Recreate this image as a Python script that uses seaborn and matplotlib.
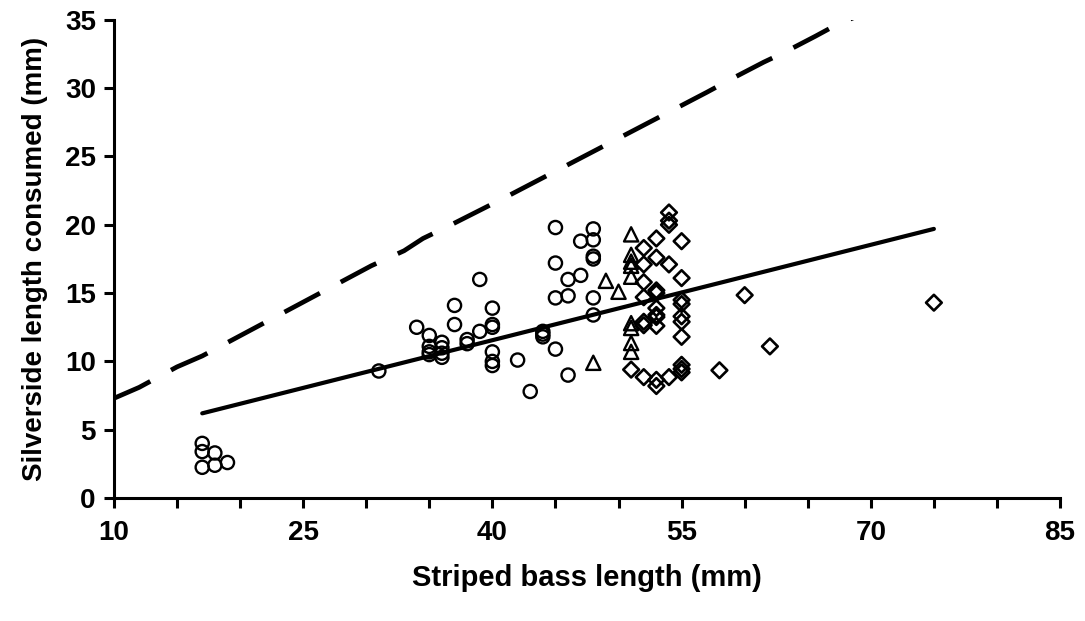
import matplotlib
matplotlib.use("Agg")
import matplotlib.pyplot as plt
import seaborn as sns
import pandas as pd

# ---- data ----
circle_x = [17, 17, 17, 18, 18, 19, 31, 34, 35, 35, 35, 35, 36, 36, 36, 36, 37, 37, 38, 38,
            39, 39, 40, 40, 40, 40, 40, 40, 42, 43, 44, 44, 44, 45, 45, 45, 45, 46, 46, 46,
            47, 47, 48, 48, 48, 48, 48, 48]
circle_y = [4.0, 3.4, 2.25, 3.3, 2.4, 2.6, 9.3, 12.5, 11.9, 11.1, 10.7, 10.5, 11.4, 11.0, 10.6, 10.3,
            14.1, 12.7, 11.6, 11.3, 16.0, 12.2, 13.9, 12.7, 12.5, 10.7, 10.0, 9.7, 10.1, 7.8,
            12.2, 12.0, 11.8, 19.8, 17.2, 14.65, 10.9, 16.0, 14.8, 9.0, 18.8, 16.3,
            19.7, 18.9, 17.7, 17.5, 14.65, 13.4]

triangle_x = [48, 49, 50, 51, 51, 51, 51, 51, 51, 51, 51, 51]
triangle_y = [9.9, 15.9, 15.1, 19.3, 17.8, 17.3, 17.0, 16.2, 12.8, 12.45, 11.35, 10.7]

diamond_x = [51, 52, 52, 52, 52, 52, 52, 52, 53, 53, 53, 53, 53, 53, 53, 53, 53, 53,
             54, 54, 54, 54, 54, 55, 55, 55, 55, 55, 55, 55, 55, 55, 55, 58, 60, 62, 75]
diamond_y = [9.4, 18.3, 17.1, 15.8, 14.7, 12.9, 12.65, 8.85, 19.0, 17.6, 15.2, 15.0, 13.9, 13.4,
             13.25, 12.6, 8.65, 8.2, 20.9, 20.3, 20.0, 17.1, 8.85, 18.8, 16.1, 14.5, 14.2, 13.3,
             12.9, 11.8, 9.75, 9.45, 9.2, 9.35, 14.85, 11.1, 14.3]

fit_x = [17, 75]
fit_y = [6.2, 19.7]

max_x = [10, 12, 15, 17, 30.4, 33, 34.5, 36.3, 40.8, 43.5, 57, 59, 61.5, 63.1, 65.6, 67.2, 69.5]
max_y = [7.3, 8.1, 9.6, 10.4, 17.0, 18.1, 19.0, 19.8, 21.9, 23.2, 29.7, 30.7, 31.9, 32.6, 33.8, 34.6, 35.5]

x_ticks = list(range(10, 86, 5))
x_labels = [str(t) if (t - 10) % 15 == 0 else "" for t in x_ticks]
y_ticks = list(range(0, 36, 5))

# ---- plot ----
sns.set_theme(style="white")
plt.rcParams["font.family"] = ["Liberation Sans", "DejaVu Sans"]
plt.rcParams["font.weight"] = "bold"
plt.rcParams["text.color"] = "black"
plt.rcParams["axes.labelcolor"] = "black"

fig = plt.figure(figsize=(10.85, 6.21), dpi=100)
ax = fig.add_axes([0.105, 0.198, 0.872, 0.770])

df_c = pd.DataFrame({"x": circle_x, "y": circle_y})
df_t = pd.DataFrame({"x": triangle_x, "y": triangle_y})
df_d = pd.DataFrame({"x": diamond_x, "y": diamond_y})

sns.scatterplot(data=df_c, x="x", y="y", marker="o", s=90, facecolors="none",
                edgecolor="black", linewidth=1.7, ax=ax, zorder=3)
sns.scatterplot(data=df_t, x="x", y="y", marker="^", s=105, facecolors="none",
                edgecolor="black", linewidth=1.7, ax=ax, zorder=3)
sns.scatterplot(data=df_d, x="x", y="y", marker="D", s=64, facecolors="none",
                edgecolor="black", linewidth=1.9, ax=ax, zorder=3)

sns.lineplot(x=fit_x, y=fit_y, color="black", linewidth=3.0, ax=ax, zorder=4)
sns.lineplot(x=max_x, y=max_y, color="black", linewidth=3.4, ax=ax, zorder=4,
             sort=False)
ax.lines[-1].set_dashes((8.5, 5.0))
ax.lines[-1].set_dash_capstyle("butt")

ax.set_xlim(10, 85)
ax.set_ylim(0, 35)
ax.set_xticks(x_ticks)
ax.set_xticklabels(x_labels)
ax.set_yticks(y_ticks)

for s in ["top", "right"]:
    ax.spines[s].set_visible(False)
for s in ["left", "bottom"]:
    ax.spines[s].set_linewidth(2.2)
    ax.spines[s].set_color("black")

ax.tick_params(axis="both", which="major", direction="out", length=7, width=2.2,
               color="black", labelsize=20, labelcolor="black", pad=6,
               bottom=True, left=True)
ax.tick_params(axis="x", pad=9)
for lab in ax.get_xticklabels() + ax.get_yticklabels():
    lab.set_fontweight("bold")

ax.set_xlabel("Striped bass length (mm)", fontsize=21, fontweight="bold",
              labelpad=13, color="black")
ax.set_ylabel("Silverside length consumed (mm)", fontsize=20, fontweight="bold",
              labelpad=12, color="black")
ax.grid(False)
ax.set_facecolor("white")
fig.patch.set_facecolor("white")

fig.savefig("out.png", dpi=100)
